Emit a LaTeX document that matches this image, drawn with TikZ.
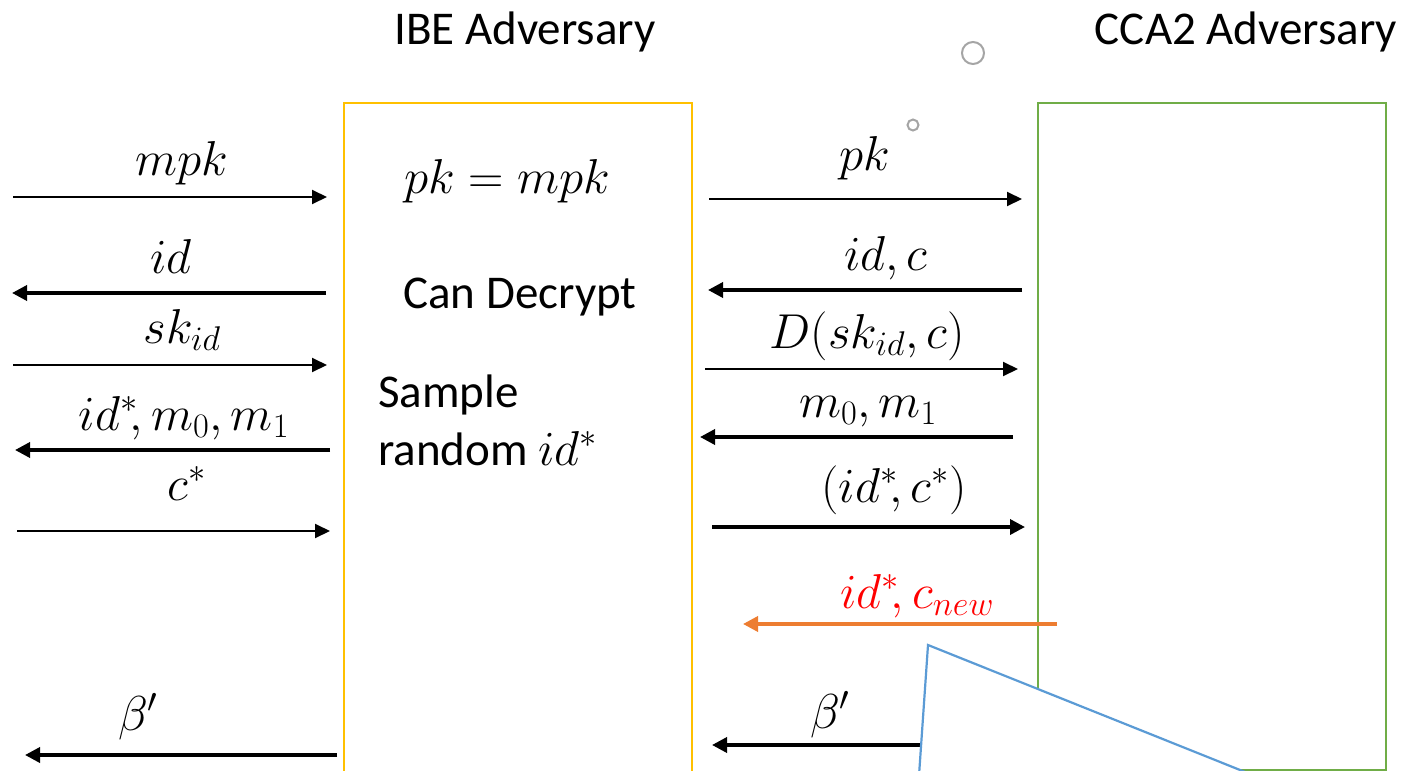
\RequirePackage{fix-cm}
\documentclass[tikz,border=0pt]{standalone}
\usepackage{fontspec}
\setmainfont{Carlito}
\usetikzlibrary{arrows.meta}
\definecolor{ybox}{HTML}{FFC000}
\definecolor{gbox}{HTML}{70AD47}
\definecolor{bcall}{HTML}{5B9BD5}
\definecolor{oarr}{HTML}{ED7D31}
\definecolor{rlbl}{HTML}{FF0000}
\definecolor{gcirc}{HTML}{A5A5A5}
\begin{document}
\begin{tikzpicture}[x=1pt,y=-1pt,
  thinarr/.style={line width=2pt,-{Triangle[length=15pt,width=14pt]}},
  thickarr/.style={line width=3.5pt,-{Triangle[length=15pt,width=15pt]}},
  lbl/.style={anchor=base,inner sep=0pt,font=\fontsize{49}{58}\selectfont},
  txt/.style={anchor=base,inner sep=0pt,font=\fontsize{47}{56}\selectfont},
  box/.style={draw,line width=2pt,minimum width=348pt,anchor=north west,inner sep=0pt}]
\useasboundingbox (0,0) rectangle (1406,771);
\clip (0,0) rectangle (1406,771);
% boxes
\node[box,draw=ybox,minimum height=675pt] (ibe) at (343,102) {};
\node[box,draw=gbox,minimum height=667pt] (cca) at (1037,102) {};
% titles
\node[txt] (t1) at (525,44) {IBE Adversary};
\node[txt] (t2) at (1246,44) {CCA2 Adversary};
% inner texts
\node[lbl] (pkeq) at (507,193) {$pk = mpk$};
\node[txt] (cand) at (520,308) {Can Decrypt};
\node[txt,anchor=base west] (samp) at (378,407) {Sample};
\node[txt,anchor=base west] (rand) at (378,465) {random \fontsize{49}{58}\selectfont$id^{*}$};
% left arrows
\coordinate (a1s) at (13,197);  \coordinate (a1e) at (327,197);
\coordinate (a2s) at (326,293); \coordinate (a2e) at (12,293);
\coordinate (a3s) at (13,365);  \coordinate (a3e) at (327,365);
\coordinate (a4s) at (330,450); \coordinate (a4e) at (15,450);
\coordinate (a5s) at (17,531);  \coordinate (a5e) at (330,531);
\coordinate (a6s) at (337,755); \coordinate (a6e) at (25,755);
\draw[thinarr] (a1s) -- (a1e);
\draw[thickarr] (a2s) -- (a2e);
\draw[thinarr] (a3s) -- (a3e);
\draw[thickarr] (a4s) -- (a4e);
\draw[thinarr] (a5s) -- (a5e);
\draw[thickarr] (a6s) -- (a6e);
\node[lbl] (l1) at (182,175) {$mpk$};
\node[lbl] (l2) at (171,273) {$id$};
\node[lbl] (l3) at (182,343) {$sk_{id}$};
\node[lbl] (l4) at (184,430) {$id^{*}\!,m_0,m_1$};
\node[lbl] (l5) at (187,500) {$c^{*}$};
\node[lbl] (l6) at (138,730) {$\beta'$};
% right arrows
\coordinate (b1s) at (709,199);  \coordinate (b1e) at (1022,199);
\coordinate (b2s) at (1022,290); \coordinate (b2e) at (708,290);
\coordinate (b3s) at (705,369);  \coordinate (b3e) at (1018,369);
\coordinate (b4s) at (1013,437); \coordinate (b4e) at (700,437);
\coordinate (b5s) at (712,527);  \coordinate (b5e) at (1025,527);
\coordinate (b6s) at (1057,624); \coordinate (b6e) at (743,624);
\coordinate (b7s) at (921,745);  \coordinate (b7e) at (712,745);
\draw[thinarr] (b1s) -- (b1e);
\draw[thickarr] (b2s) -- (b2e);
\draw[thinarr] (b3s) -- (b3e);
\draw[thickarr] (b4s) -- (b4e);
\draw[thickarr] (b5s) -- (b5e);
\draw[thickarr,draw=oarr,-{Triangle[length=15pt,width=15pt,fill=oarr]}] (b6s) -- (b6e);
\draw[thickarr] (b7s) -- (b7e);
\node[lbl] (r1) at (865,170) {$pk$};
\node[lbl] (r2) at (886,270) {$id,c$};
\node[lbl] (r3) at (867,348) {$D(sk_{id},c)$};
\node[lbl] (r4) at (868,417) {$m_0,m_1$};
\node[lbl] (r5) at (894,502) {$(id^{*}\!,c^{*})$};
\node[lbl,text=rlbl] (r6) at (917,608) {$id^{*}\!,c_{new}$};
\node[lbl] (r7) at (830,728) {$\beta'$};
% thought bubble callout
\coordinate (c1) at (918,790);
\coordinate (c2) at (928,645);
\coordinate (c3) at (1290,790);
\fill[white] (c1) -- (c2) -- (c3) -- cycle;
\draw[bcall,line width=2.2pt] (c1) -- (c2) -- (c3);
\draw[gcirc,line width=2pt] (973,53) circle[radius=11pt];
\draw[gcirc,line width=2pt] (913,125) circle[radius=5.5pt];
\end{tikzpicture}
\end{document}
